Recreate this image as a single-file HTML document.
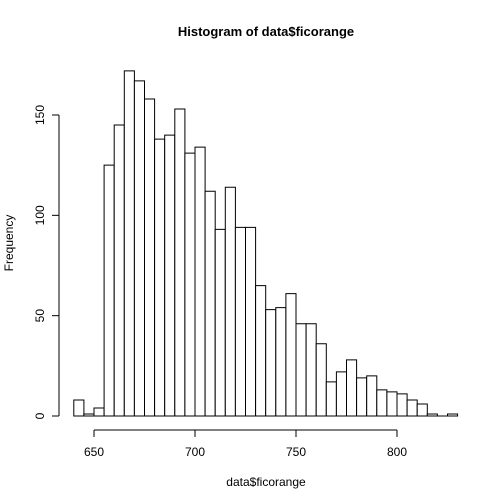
<!DOCTYPE html>
<html><head><style>body{margin:0;background:#fff}svg{display:block}text{font-family:"Liberation Sans",Arial,sans-serif;fill:#000}</style></head>
<body>
<svg id="chart" width="504" height="504" viewBox="0 0 504 504">
<text x="266" y="36" text-anchor="middle" font-size="13" font-weight="bold">Histogram of data$ficorange</text>
<text x="266" y="486" text-anchor="middle" font-size="12">data$ficorange</text>
<text transform="translate(13,243) rotate(-90)" text-anchor="middle" font-size="12">Frequency</text>
<g id="bars"></g><g id="axes"></g>
</svg>
<script>
const binStarts=[640,645,650,655,660,665,670,675,680,685,690,695,700,705,710,715,720,725,730,735,740,745,750,755,760,765,770,775,780,785,790,795,800,805,810,815,820,825];
const counts=[8,1,4,125,145,172,167,158,138,140,153,131,134,112,93,114,94,94,65,53,54,61,46,46,36,17,22,28,19,20,13,12,11,8,6,1,0,1];
const xTicks=[650,700,750,800];
const yTicks=[0,50,100,150];
const binWidth=5;
const NS="http://www.w3.org/2000/svg";
const sx=v=>94+(v-650)*(397-94)/150;
const sy=v=>416-v*(416-115)/150;
const bars=document.getElementById('bars'),axes=document.getElementById('axes');
function mk(t,a,p){const e=document.createElementNS(NS,t);for(const k in a)e.setAttribute(k,a[k]);p.appendChild(e);return e;}
binStarts.forEach((b,i)=>{
 const x0=sx(b),x1=sx(b+binWidth),y=sy(counts[i]);
 const r=mk('path',{d:`M${x0},416 L${x0},${y} L${x1},${y} L${x1},416 Z`,fill:'#fff',stroke:'#000','stroke-width':1},bars);
 
 
});
const xa=mk('line',{x1:sx(xTicks[0]),x2:sx(xTicks[xTicks.length-1]),y1:430,y2:430,stroke:'#000'},axes);


xTicks.forEach(v=>{
 mk('line',{x1:sx(v),x2:sx(v),y1:430,y2:437,stroke:'#000'},axes);
 const t=mk('text',{x:sx(v),y:456,'text-anchor':'middle','font-size':12},axes);t.textContent=v;
 
 
});
const ya=mk('line',{x1:59,x2:59,y1:sy(yTicks[0]),y2:sy(yTicks[yTicks.length-1]),stroke:'#000'},axes);


yTicks.forEach(v=>{
 mk('line',{x1:52,x2:59,y1:sy(v),y2:sy(v),stroke:'#000'},axes);
 const t=mk('text',{transform:`translate(44,${sy(v)}) rotate(-90)`,'text-anchor':'middle','font-size':12},axes);t.textContent=v;
 
 
});
</script>
</body></html>
